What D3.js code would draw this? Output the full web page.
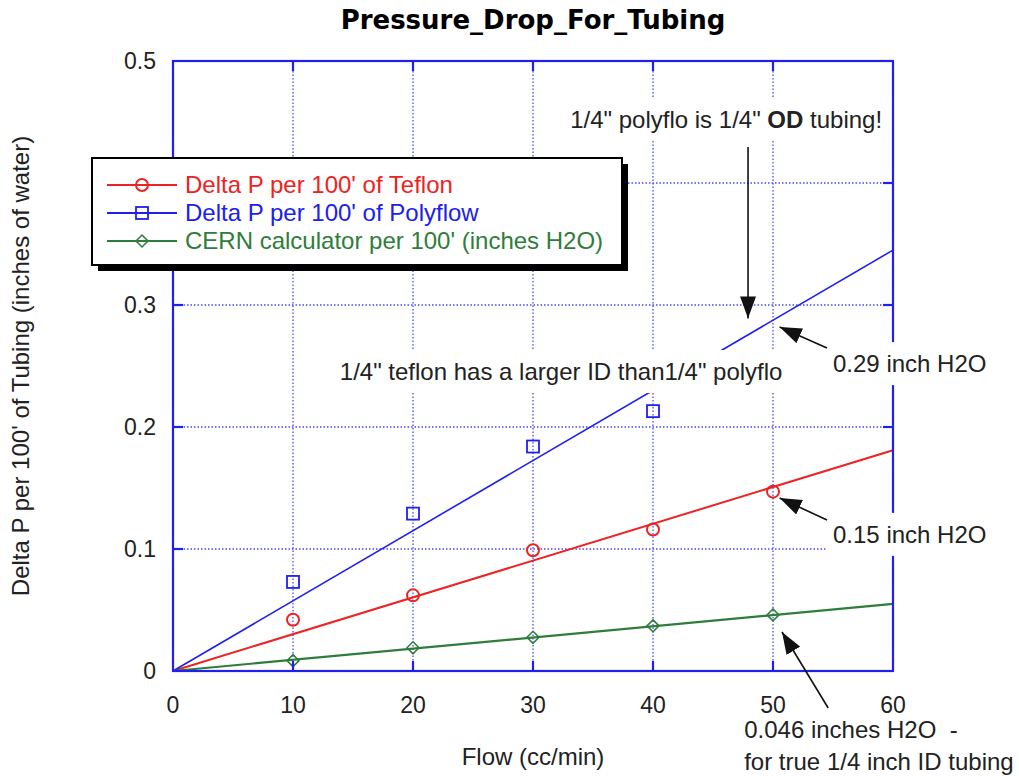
<!DOCTYPE html>
<html>
<head>
<meta charset="utf-8">
<script src="https://cdn.jsdelivr.net/npm/d3@7.9.0/dist/d3.min.js"></script>
<style>
  body { margin: 0; background: #fff; }
  svg text { font-family: "Liberation Sans", Arial, sans-serif; }
</style>
</head>
<body>
<div id="chart"></div>
<script>
// flow values (cc/min)
const flows = [10, 20, 30, 40, 50];
const teflon = [0.042, 0.062, 0.099, 0.116, 0.147];
const polyflow = [0.073, 0.129, 0.184, 0.213];
const cern = [0.0085, 0.019, 0.0276, 0.037, 0.046];

// fitted lines, [flow, value] end points
const teflonFit = [[0, 0], [60, 0.181]];
const polyflowFit = [[0, 0], [60, 0.345]];
const cernFit = [[0, 0], [60, 0.055]];

const xTicks = [0, 10, 20, 30, 40, 50, 60];
const yTicks = [0, 0.1, 0.2, 0.3, 0.4, 0.5];

const legendLabels = [
  "Delta P per 100' of Teflon",
  "Delta P per 100' of Polyflow",
  "CERN calculator per 100' (inches H2O)"
];

// notes: text and where they sit, in data units
const notes = [
  { x: 33.1, y: 0.445, lines: [[["1/4\" polyflo is 1/4\" ", false], ["OD", true], [" tubing!", false]]] },
  { x: 13.9, y: 0.2385, lines: [[["1/4\" teflon has a larger ID than1/4\" polyflo", false]]] },
  { x: 55, y: 0.245, lines: [[["0.29 inch H2O", false]]] },
  { x: 55, y: 0.105, lines: [[["0.15 inch H2O", false]]] },
  { x: 47.6, y: -0.055, lines: [[["0.046 inches H2O  -", false]], [["for true 1/4 inch ID tubing", false]]] }
];

// arrows: [from, to]
const arrows = [
  [[47.92, 0.4295], [47.92, 0.289]],
  [[54.5, 0.2648], [50.55, 0.282]],
  [[54.5, 0.1238], [50.55, 0.1418]],
  [[54.6, -0.0303], [50.75, 0.032]]
];

const RED = "#ee2222", BLUE = "#2020ee", GREEN = "#2e7d3a", GRID = "#4848ff";

const width = 1019, height = 776;
const margin = { left: 173, right: 126, top: 61, bottom: 105 };

const svg = d3.select("#chart").append("svg")
  .attr("width", width)
  .attr("height", height);

const x = d3.scaleLinear().domain([0, 60]).range([margin.left, width - margin.right]);
const y = d3.scaleLinear().domain([0, 0.5]).range([height - margin.bottom, margin.top]);

// grid
const grid = svg.append("g");
grid.selectAll("line.gx")
  .data(xTicks.slice(1, -1))
  .join("line")
  .attr("x1", d => x(d)).attr("x2", d => x(d))
  .attr("y1", y(0)).attr("y2", y(0.5))
  .attr("stroke", GRID).attr("stroke-width", 1.3)
  .attr("stroke-dasharray", "1.5,2");
grid.selectAll("line.gy")
  .data(yTicks.slice(1, -1))
  .join("line")
  .attr("x1", x(0)).attr("x2", x(60))
  .attr("y1", d => y(d)).attr("y2", d => y(d))
  .attr("stroke", GRID).attr("stroke-width", 1.3)
  .attr("stroke-dasharray", "1.5,2");

const line = d3.line().x(d => x(d[0])).y(d => y(d[1]));

const series = [
  { name: "teflon", vals: teflon, fit: teflonFit, color: RED, shape: "circle", w: 2 },
  { name: "polyflow", vals: polyflow, fit: polyflowFit, color: BLUE, shape: "square", w: 1.6 },
  { name: "cern", vals: cern, fit: cernFit, color: GREEN, shape: "diamond", w: 2.2 }
];

function drawMarker(g, shape, cx, cy, color) {
  if (shape === "circle") {
    g.append("circle").attr("cx", cx).attr("cy", cy).attr("r", 6)
      .attr("fill", "none").attr("stroke", color).attr("stroke-width", 2);
  } else if (shape === "square") {
    g.append("rect").attr("x", cx - 6).attr("y", cy - 6).attr("width", 12).attr("height", 12)
      .attr("fill", "none").attr("stroke", color).attr("stroke-width", 1.8);
  } else {
    g.append("path").attr("d", `M${cx},${cy - 6}L${cx + 6},${cy}L${cx},${cy + 6}L${cx - 6},${cy}Z`)
      .attr("fill", "none").attr("stroke", color).attr("stroke-width", 1.5);
  }
}

const plot = svg.append("g");
series.forEach(s => {
  plot.append("path")
    .attr("d", line(s.fit))
    .attr("fill", "none")
    .attr("stroke", s.color)
    .attr("stroke-width", s.w);
  s.vals.forEach((v, i) => drawMarker(plot, s.shape, x(flows[i]), y(v), s.color));
});

// axes frame + inside ticks
const axes = svg.append("g");
axes.append("rect")
  .attr("x", x(0)).attr("y", y(0.5))
  .attr("width", x(60) - x(0)).attr("height", y(0) - y(0.5))
  .attr("fill", "none").attr("stroke", BLUE).attr("stroke-width", 2.2);

const tickLen = 10;
xTicks.slice(1, -1).forEach(t => {
  axes.append("line").attr("x1", x(t)).attr("x2", x(t)).attr("y1", y(0)).attr("y2", y(0) - tickLen)
    .attr("stroke", BLUE).attr("stroke-width", 2.2);
  axes.append("line").attr("x1", x(t)).attr("x2", x(t)).attr("y1", y(0.5)).attr("y2", y(0.5) + tickLen)
    .attr("stroke", BLUE).attr("stroke-width", 2.2);
});
yTicks.slice(1, -1).forEach(t => {
  axes.append("line").attr("x1", x(0)).attr("x2", x(0) + tickLen).attr("y1", y(t)).attr("y2", y(t))
    .attr("stroke", BLUE).attr("stroke-width", 2.2);
  axes.append("line").attr("x1", x(60)).attr("x2", x(60) - tickLen).attr("y1", y(t)).attr("y2", y(t))
    .attr("stroke", BLUE).attr("stroke-width", 2.2);
});

// notes with white background
const noteG = svg.append("g");
notes.forEach(n => {
  const g = noteG.append("g");
  const bg = g.append("rect").attr("fill", "#fff");
  const t = g.append("text")
    .attr("x", x(n.x)).attr("y", y(n.y))
    .attr("font-size", 24).attr("fill", "#222");
  n.lines.forEach((ln, li) => {
    ln.forEach(([str, bold], si) => {
      const sp = t.append("tspan").text(str).style("white-space", "pre")
        .attr("font-weight", bold ? "bold" : null);
      if (si === 0) sp.attr("x", x(n.x)).attr("dy", li === 0 ? 0 : 32);
    });
  });
  const b = t.node().getBBox();
  bg.attr("x", b.x - 7).attr("y", b.y - 8).attr("width", b.width + 14).attr("height", b.height + 16);
});

// tick labels
const labels = svg.append("g");
labels.selectAll("text.xl")
  .data(xTicks)
  .join("text")
  .attr("x", d => x(d)).attr("y", y(0) + 42)
  .attr("text-anchor", "middle")
  .attr("font-size", 23).attr("fill", "#222")
  .text(d => d);
labels.selectAll("text.yl")
  .data(yTicks)
  .join("text")
  .attr("x", x(0) - 17).attr("y", d => y(d) + 8)
  .attr("text-anchor", "end")
  .attr("font-size", 23).attr("fill", "#222")
  .text(d => d);

// titles
svg.append("text")
  .attr("x", (x(0) + x(60)) / 2).attr("y", 29)
  .attr("text-anchor", "middle")
  .style("font-family", "'DejaVu Sans', sans-serif")
  .attr("font-weight", "bold").attr("font-size", 26)
  .text("Pressure_Drop_For_Tubing");
svg.append("text")
  .attr("x", (x(0) + x(60)) / 2).attr("y", 765)
  .attr("text-anchor", "middle")
  .attr("font-size", 24).attr("fill", "#222")
  .text("Flow (cc/min)");
svg.append("text")
  .attr("transform", `translate(29, ${(y(0) + y(0.5)) / 2}) rotate(-90)`)
  .attr("text-anchor", "middle")
  .attr("font-size", 24).attr("fill", "#222")
  .text("Delta P per 100' of Tubing (inches of water)");

// arrows
svg.append("defs").append("marker")
  .attr("id", "head")
  .attr("viewBox", "0 0 22 16")
  .attr("refX", 22).attr("refY", 8)
  .attr("markerWidth", 22).attr("markerHeight", 16)
  .attr("markerUnits", "userSpaceOnUse")
  .attr("orient", "auto")
  .append("path").attr("d", "M0,0L22,8L0,16Z").attr("fill", "#111");

svg.append("g").selectAll("line")
  .data(arrows)
  .join("line")
  .attr("x1", d => x(d[0][0])).attr("y1", d => y(d[0][1]))
  .attr("x2", d => x(d[1][0])).attr("y2", d => y(d[1][1]))
  .attr("stroke", "#111").attr("stroke-width", 1.6)
  .attr("marker-end", "url(#head)");

// legend
const lg = svg.append("g");
const lx = 92, ly = 158, lw = 530, lh = 107;
lg.append("rect").attr("x", lx + 6).attr("y", ly + 6).attr("width", lw).attr("height", lh).attr("fill", "#000");
lg.append("rect").attr("x", lx).attr("y", ly).attr("width", lw).attr("height", lh)
  .attr("fill", "#fff").attr("stroke", "#000").attr("stroke-width", 2);
series.forEach((s, i) => {
  const ry = ly + 27 + i * 28;
  lg.append("line").attr("x1", lx + 15).attr("x2", lx + 85).attr("y1", ry).attr("y2", ry)
    .attr("stroke", s.color).attr("stroke-width", 1.8);
  drawMarker(lg, s.shape, lx + 50, ry, s.color);
  lg.append("text").attr("x", lx + 93).attr("y", ry + 8)
    .attr("font-size", 24).attr("fill", s.color)
    .text(legendLabels[i]);
});
</script>
</body>
</html>
